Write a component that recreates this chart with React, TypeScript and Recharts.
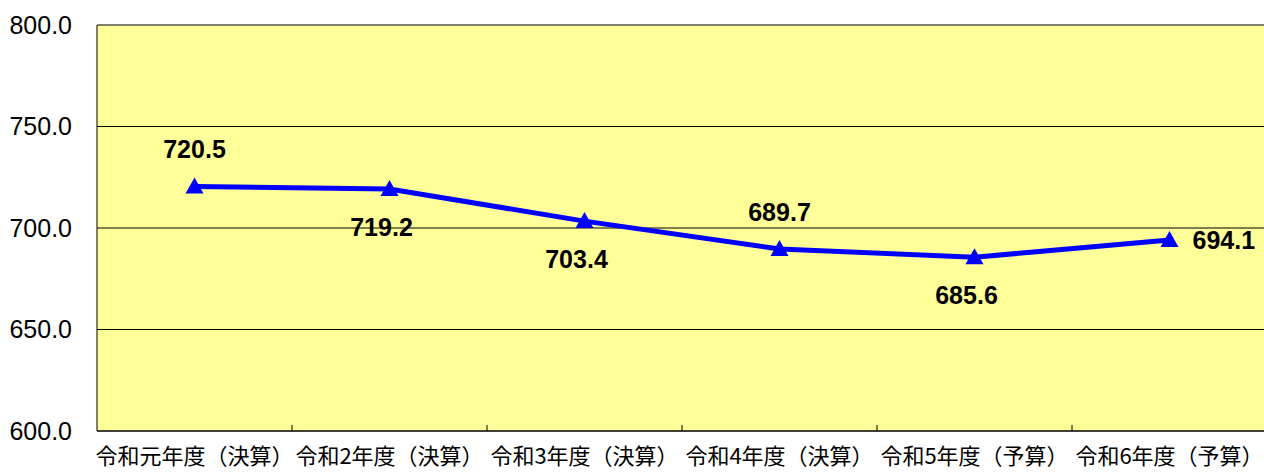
import React from 'react';
import { LineChart, Line, XAxis, YAxis, CartesianGrid, LabelList, ReferenceLine } from 'recharts';

const categories = ['令和元年度（決算）', '令和2年度（決算）', '令和3年度（決算）', '令和4年度（決算）', '令和5年度（予算）', '令和6年度（予算）'];
const values = [720.5, 719.2, 703.4, 689.7, 685.6, 694.1];
const labelSide = ['above', 'below', 'below', 'above', 'below', 'right'];
const yTicks = [600, 650, 700, 750, 800];
const boundaries = [1, 2, 3, 4, 5];

const data = categories.map((name, i) => ({ name, value: values[i], pos: i + 0.5 }));

const Triangle = (props: any) => {
    const { cx, cy } = props;
    if (cx == null || cy == null) return null;
    return <polygon points={`${cx},${cy - 9} ${cx - 9},${cy + 7} ${cx + 9},${cy + 7}`} fill="#0000ff" />;
};

const ValueLabel = (props: any) => {
    const { x, y, value, index } = props;
    const side = labelSide[index];
    let tx = x;
    let ty = y;
    let anchor: 'middle' | 'start' = 'middle';
    if (side === 'above') ty = y - 37;
    if (side === 'below') { ty = y + 38; tx = x - 8; }
    if (side === 'right') { tx = x + 23; anchor = 'start'; }
    return (
        <text x={tx} y={ty} textAnchor={anchor} dominantBaseline="central"
            style={{ fontFamily: 'Liberation Sans', fontWeight: 'bold', fontSize: 25, fill: '#000' }}>
            {Number(value).toFixed(1)}
        </text>
    );
};

const App: React.FC = () => {
    return (
        <div style={{ position: 'absolute', left: 0, top: 0, background: '#fff' }}>
            <LineChart width={1280} height={473} data={data} margin={{ top: 25, right: 13, left: 0, bottom: 0 }}>
                <CartesianGrid horizontal vertical={false} fill="#ffff99" stroke="#000" strokeOpacity={1} />
                <XAxis xAxisId="cat" dataKey="name" scale="band" axisLine={{ stroke: '#000' }} tickLine={false} height={42}
                    tickSize={0} tickMargin={17} interval={0}
                    tick={{ fill: '#000', fontSize: 22, fontFamily: 'Noto Sans CJK JP' }} />
                <XAxis xAxisId="edges" dataKey="pos" type="number" domain={[0, 6]} allowDataOverflow hide />
                <YAxis domain={[600, 800]} ticks={yTicks} width={97} axisLine={{ stroke: '#000' }} tickLine={false}
                    tickSize={0} tickMargin={25} tickFormatter={(v: number) => v.toFixed(1)}
                    tick={{ fill: '#000', fontSize: 25, fontFamily: 'Liberation Sans' }} />
                {boundaries.map((b) => (
                    <ReferenceLine key={b} xAxisId="edges" segment={[{ x: b, y: 600 }, { x: b, y: 603 }]}
                        stroke="#000" strokeWidth={1} ifOverflow="visible" />
                ))}
                <Line xAxisId="cat" type="linear" dataKey="value" stroke="#0000ff" strokeWidth={5}
                    dot={<Triangle />} activeDot={false} isAnimationActive={false}>
                    <LabelList dataKey="value" content={<ValueLabel />} />
                </Line>
            </LineChart>
        </div>
    );
};

export default App;
